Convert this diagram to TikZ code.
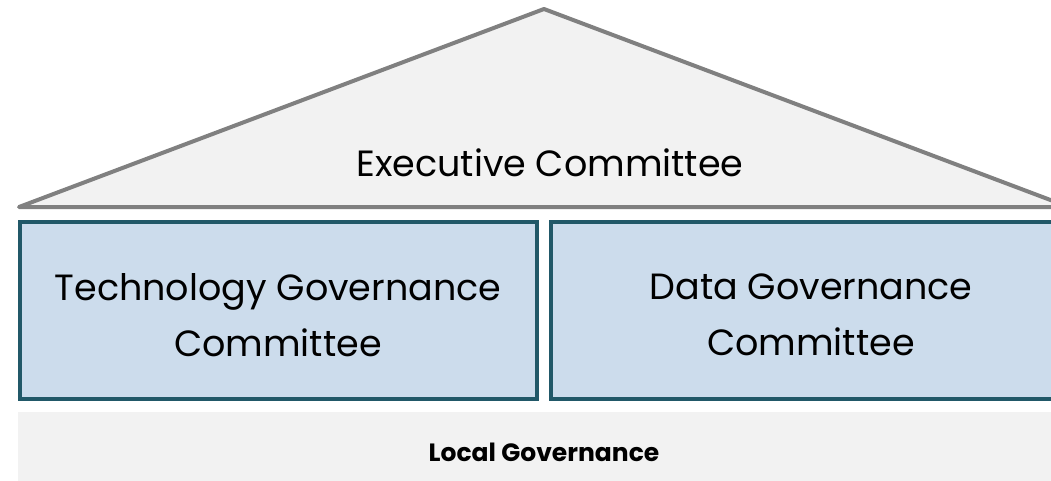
\documentclass[tikz,border=0pt]{standalone}
\usepackage{fontspec}
\setmainfont{Poppins}
\begin{document}
\begin{tikzpicture}[x=1pt,y=-1pt,
  roof/.style={draw=black!50,line width=4pt,fill=black!5,line join=round},
  pillar/.style={draw=pillarc,line width=4pt,fill=boxfill},
  base/.style={fill=black!5,draw=none},
  bigtext/.style={font=\fontsize{36.5}{56}\selectfont,align=center,text=black},
  smalltext/.style={font=\bfseries\fontsize{25}{30}\selectfont,text=black}]
\definecolor{pillarc}{HTML}{215868}
\definecolor{boxfill}{HTML}{CCDCEC}
\useasboundingbox (0,0) rectangle (1051,481);
\begin{scope}
\clip (0,0) rectangle (1051,481);
\draw[roof] (19,207) -- (544,9) -- (1069,207) -- cycle;
\node[bigtext] (exec) at (550,163) {Executive Committee};
\draw[pillar] (20,222) rectangle (537,399);
\node[bigtext] (tech) at (278,315) {Technology Governance\\Committee};
\draw[pillar] (551,222) rectangle (1070,399);
\node[bigtext] (data) at (811,315) {Data Governance\\Committee};
\fill[base] (18,412) rectangle (1070,481);
\node[smalltext] (local) at (544,452) {Local Governance};
\end{scope}
\end{tikzpicture}
\end{document}
